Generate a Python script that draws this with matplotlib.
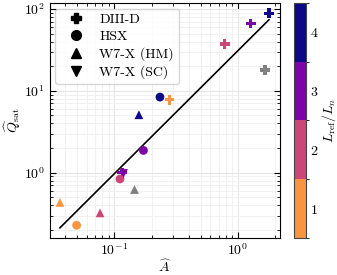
import numpy as np
import matplotlib
matplotlib.use('Agg')
import matplotlib.pyplot as plt
from matplotlib.colors import ListedColormap, BoundaryNorm
from matplotlib.lines import Line2D

plt.rcParams['font.family'] = 'serif'
plt.rcParams['font.serif'] = ['cmr10', 'DejaVu Serif']
plt.rcParams['mathtext.fontset'] = 'cm'
plt.rcParams['axes.formatter.use_mathtext'] = True
plt.rcParams['axes.unicode_minus'] = False
plt.rcParams['font.size'] = 10

# data: (A_hat, Q_sat, L_ref/L_n)  nan -> grey
diiid_A = [1.79, 1.275, 0.784, 0.280, 0.116, 1.65]
diiid_Q = [88.6, 66.2, 37.4, 7.77, 1.0, 17.7]
diiid_c = [4, 3, 2, 1, 3, np.nan]

hsx_A = [0.234, 0.172, 0.111, 0.0494]
hsx_Q = [8.38, 1.87, 0.838, 0.228]
hsx_c = [4, 3, 2, 1]

w7x_hm_A = [0.158, 0.0765, 0.0362, 0.1455]
w7x_hm_Q = [5.10, 0.323, 0.434, 0.633]
w7x_hm_c = [4, 2, 1, np.nan]

w7x_sc_A = [0.118]
w7x_sc_Q = [0.99]
w7x_sc_c = [3]

# power law fit Q = C * A^alpha
fit_C = 30.8
fit_alpha = 1.5

colors = ['#f89540', '#cc4778', '#7e03a8', '#0d0887']
cmap = ListedColormap(colors)
norm = BoundaryNorm([0.5, 1.5, 2.5, 3.5, 4.5], cmap.N)

fig = plt.figure(figsize=(3.37, 2.75), dpi=100)
ax = fig.add_axes([0.148, 0.135, 0.683, 0.854])
cax = fig.add_axes([0.872, 0.135, 0.036, 0.854])

sets = [(diiid_A, diiid_Q, diiid_c, 'P', 50),
        (hsx_A, hsx_Q, hsx_c, 'o', 40),
        (w7x_hm_A, w7x_hm_Q, w7x_hm_c, '^', 40),
        (w7x_sc_A, w7x_sc_Q, w7x_sc_c, 'v', 40)]

for A, Q, c, m, s in sets:
    A = np.array(A); Q = np.array(Q); c = np.array(c, dtype=float)
    grey = np.isnan(c)
    ax.scatter(A[grey], Q[grey], color='grey', marker=m, s=s, lw=0, zorder=3)
    sc = ax.scatter(A[~grey], Q[~grey], c=c[~grey], cmap=cmap, norm=norm,
                    marker=m, s=s, lw=0, zorder=3)

all_A = np.concatenate([diiid_A, hsx_A, w7x_hm_A, w7x_sc_A])
xf = np.array([all_A.min(), all_A.max()])
ax.plot(xf, fit_C * xf**fit_alpha, color='k', lw=1.2, zorder=2)

ax.set_xscale('log')
ax.set_yscale('log')
ax.set_xlim(0.030, 2.2)
ax.set_ylim(0.16, 118)
ax.grid(True, which='major', color='#e6e6e6', lw=0.8, zorder=0)
ax.grid(True, which='minor', color='#efefef', lw=0.6, zorder=0)
ax.set_axisbelow(True)
ax.tick_params(which='both', direction='in', top=True, right=True)
ax.tick_params(which='major', length=4)
ax.tick_params(which='minor', length=2)
ax.set_xlabel(r'$\widehat{A}$', labelpad=0)
ax.set_ylabel(r'$\widehat{Q}_{\mathrm{sat}}$', labelpad=1)

handles = [Line2D([], [], color='k', marker=m, ls='', markersize=7)
           for m in ['P', 'o', '^', 'v']]
ax.legend(handles, ['DIII-D', 'HSX', 'W7-X (HM)', 'W7-X (SC)'],
          loc='upper left', handlelength=2.3, handletextpad=0.5, borderpad=0.35,
          labelspacing=0.3, borderaxespad=0.4)

cb = fig.colorbar(sc, cax=cax, ticks=[1, 2, 3, 4])
cb.ax.tick_params(length=0, pad=3)
cb.set_label(r'$L_{\mathrm{ref}}/L_n$', labelpad=1)
cb.outline.set_edgecolor('#444444')

fig.savefig('out.png', dpi=100)
